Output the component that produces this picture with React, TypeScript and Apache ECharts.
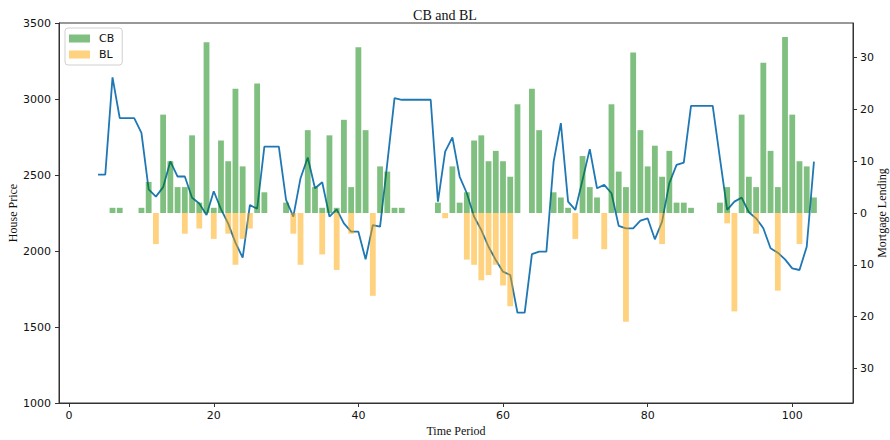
import React, { useEffect, useRef } from "react";
import * as echarts from "echarts";

const periods = [
  4, 5, 6, 7, 8, 9, 10, 11, 12, 13, 14, 15, 16, 17, 18, 19, 20, 21, 22, 23,
  24, 25, 26, 27, 28, 29, 30, 31, 32, 33, 34, 35, 36, 37, 38, 39, 40, 41, 42, 43,
  44, 45, 46, 47, 48, 49, 50, 51, 52, 53, 54, 55, 56, 57, 58, 59, 60, 61, 62, 63,
  64, 65, 66, 67, 68, 69, 70, 71, 72, 73, 74, 75, 76, 77, 78, 79, 80, 81, 82, 83,
  84, 85, 86, 87, 88, 89, 90, 91, 92, 93, 94, 95, 96, 97, 98, 99, 100, 101, 102, 103,
];

const housePrice = [
  2503, 2503, 3142, 2874, 2874, 2874, 2777, 2406, 2358, 2420,
  2590, 2490, 2490, 2350, 2312, 2237, 2393, 2275, 2180, 2055,
  1956, 2303, 2278, 2687, 2687, 2687, 2336, 2226, 2479, 2615,
  2413, 2452, 2226, 2274, 2182, 2127, 2127, 1945, 2171, 2160,
  2578, 3006, 2995, 2995, 2995, 2995, 2995, 2325, 2654, 2747,
  2490, 2380, 2226, 2138, 2028, 1941, 1864, 1842, 1594, 1594,
  1980, 1996, 1996, 2588, 2841, 2325, 2270, 2468, 2670, 2413,
  2435, 2380, 2165, 2149, 2149, 2200, 2215, 2077, 2193, 2446,
  2567, 2582, 2955, 2955, 2955, 2955, 2610, 2270, 2325, 2351,
  2255, 2215, 2150, 2018, 1989, 1945, 1886, 1875, 2028, 2588,
];

const cbValues = [
  0, 0, 1, 1, 0, 0, 1, 6, 0, 19,
  10, 5, 5, 15, 2, 33, 1, 14, 10, 24,
  9, 0, 25, 4, 0, 0, 2, 0, 0, 16,
  5, 1, 15, 1, 18, 5, 32, 16, 0, 9,
  8, 1, 1, 0, 0, 0, 0, 2, 0, 9,
  2, 4, 14, 15, 10, 12, 10, 7, 21, 0,
  24, 16, 0, 4, 3, 1, 0, 11, 5, 3,
  0, 21, 8, 5, 31, 16, 9, 13, 7, 12,
  2, 2, 1, 0, 0, 0, 2, 5, 0, 19,
  7, 5, 29, 12, 5, 34, 19, 10, 9, 3,
];

const blValues = [
  0, 0, 0, 0, 0, 0, 0, 0, 6, 0,
  0, 0, 4, 0, 3, 0, 5, 0, 4, 10,
  5, 3, 0, 0, 0, 0, 0, 4, 10, 0,
  0, 8, 0, 11, 0, 4, 0, 0, 16, 0,
  0, 0, 0, 0, 0, 0, 0, 0, 1, 0,
  0, 9, 10, 13, 12, 10, 14, 18, 0, 0,
  0, 0, 0, 0, 0, 0, 5, 0, 0, 0,
  7, 0, 0, 21, 0, 0, 0, 0, 6, 0,
  0, 0, 0, 0, 0, 0, 0, 2, 19, 0,
  0, 4, 0, 0, 15, 0, 0, 6, 0, 0,
];

const xTicks = [0, 20, 40, 60, 80, 100];
const lendingTicks = [-30, -20, -10, 0, 10, 20, 30];

export default function App() {
  const ref = useRef<HTMLDivElement>(null);

  useEffect(() => {
    if (!ref.current) return;
    const chart = echarts.init(ref.current, null, { renderer: "svg" });
    const serif = "'Liberation Serif', 'Times New Roman', serif";
    const sans = "'DejaVu Sans', sans-serif";

    chart.setOption({
      animation: false,
      backgroundColor: "#ffffff",
      title: {
        text: "CB and BL",
        left: "center",
        top: 3,
        textStyle: { fontFamily: serif, fontSize: 14, fontWeight: "normal", color: "#111" },
      },
      legend: {
        data: ["CB", "BL"],
        orient: "vertical",
        left: 65,
        top: 28,
        icon: "rect",
        itemWidth: 21,
        itemHeight: 8,
        itemGap: 5,
        padding: [5, 8, 5, 4],
        borderColor: "#d0d0d0",
        borderWidth: 1,
        borderRadius: 3,
        backgroundColor: "#fff",
        textStyle: { fontFamily: sans, fontSize: 11, color: "#111", padding: [0, 0, 0, 4] },
      },
      grid: {
        left: 59,
        right: 37,
        top: 23,
        bottom: 37,
        containLabel: false,
        outerBoundsMode: "none",
        show: true,
        borderColor: "#333",
        borderWidth: 1,
        backgroundColor: "transparent",
      },
      xAxis: {
        type: "value",
        min: -1.4,
        max: 108.4,
        name: "Time Period",
        nameLocation: "middle",
        nameGap: 22,
        nameMoveOverlap: false,
        nameTextStyle: { fontFamily: serif, fontSize: 12, color: "#111" },
        axisLine: { show: true, onZero: false, lineStyle: { color: "#333" } },
        axisTick: { show: true, length: 4, customValues: xTicks, lineStyle: { color: "#333" } },
        axisLabel: { customValues: xTicks, fontFamily: sans, fontSize: 11, color: "#111", margin: 7 },
        splitLine: { show: false },
      },
      yAxis: [
        {
          type: "value",
          min: 1000,
          max: 3500,
          interval: 500,
          name: "House Price",
          nameLocation: "middle",
          nameGap: 40,
          nameMoveOverlap: false,
          nameTextStyle: { fontFamily: serif, fontSize: 12, color: "#111" },
          axisLine: { show: true, onZero: false, lineStyle: { color: "#333" } },
          axisTick: { show: true, length: 4, lineStyle: { color: "#333" } },
          axisLabel: {
            fontFamily: sans,
            fontSize: 11,
            color: "#111",
            margin: 8,
            formatter: (v: number) => String(v),
          },
          splitLine: { show: false },
        },
        {
          type: "value",
          position: "right",
          min: -36.7,
          max: 36.7,
          name: "Mortgage Lending",
          nameLocation: "middle",
          nameRotate: 90,
          nameGap: 23,
          nameMoveOverlap: false,
          nameTextStyle: { fontFamily: serif, fontSize: 12, color: "#111" },
          axisLine: { show: true, onZero: false, lineStyle: { color: "#333" } },
          axisTick: { show: true, length: 4, customValues: lendingTicks, lineStyle: { color: "#333" } },
          axisLabel: {
            customValues: lendingTicks,
            fontFamily: sans,
            fontSize: 11,
            color: "#111",
            margin: 7,
            formatter: (v: number) => String(Math.abs(Math.round(v))),
          },
          splitLine: { show: false },
        },
      ],
      series: [
        {
          name: "House Price",
          type: "line",
          yAxisIndex: 0,
          data: periods.map((p, i) => [p, housePrice[i]]),
          showSymbol: false,
          lineStyle: { color: "#1f77b4", width: 1.8 },
          itemStyle: { color: "#1f77b4" },
          z: 1,
        },
        {
          name: "CB",
          type: "bar",
          yAxisIndex: 1,
          data: periods.map((p, i) => [p, cbValues[i]]),
          barWidth: 5.8,
          barGap: "-100%",
          itemStyle: { color: "rgba(0,128,0,0.5)" },
          z: 3,
        },
        {
          name: "BL",
          type: "bar",
          yAxisIndex: 1,
          data: periods.map((p, i) => [p, -blValues[i]]),
          barWidth: 5.8,
          barGap: "-100%",
          itemStyle: { color: "rgba(255,165,0,0.5)" },
          z: 3,
        },
      ],
    });

    return () => chart.dispose();
  }, []);

  return (
    <div
      ref={ref}
      style={{ position: "fixed", left: 0, top: 0, width: 890, height: 440 }}
    />
  );
}
